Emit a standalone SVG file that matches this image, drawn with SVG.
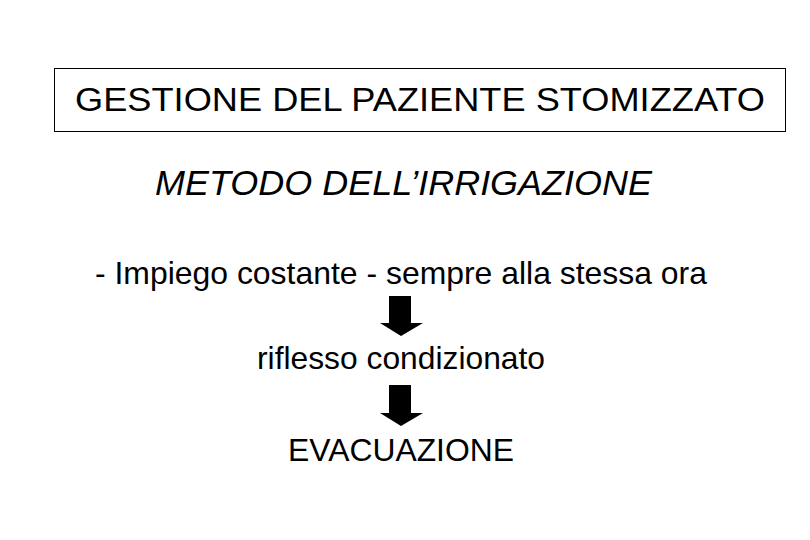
<svg xmlns="http://www.w3.org/2000/svg" width="810" height="540" viewBox="0 0 810 540">
<style>
text{font-family:"Liberation Sans",Arial,sans-serif;fill:#000}
.arrow{fill:#000}
</style>
<rect width="810" height="540" fill="#fff"/>
<g id="title">
<rect x="54.500" y="68.500" width="731" height="63" fill="none" stroke="#000" stroke-width="1"/>
<text x="75" y="111" font-size="34" textLength="690" lengthAdjust="spacingAndGlyphs">GESTIONE DEL PAZIENTE STOMIZZATO</text>
</g>
<g id="metodo">
<text x="155" y="195" font-size="35" font-style="italic" textLength="497" lengthAdjust="spacingAndGlyphs">METODO DELL’IRRIGAZIONE</text>
</g>
<g id="impiego">
<text x="95" y="284" font-size="32" textLength="612" lengthAdjust="spacingAndGlyphs">- Impiego costante - sempre alla stessa ora</text>
</g>
<g id="riflesso">
<text x="257" y="369" font-size="32" textLength="288" lengthAdjust="spacingAndGlyphs">riflesso condizionato</text>
</g>
<g id="evacuazione">
<text x="288" y="461" font-size="32" textLength="226" lengthAdjust="spacingAndGlyphs">EVACUAZIONE</text>
</g>
<g id="connectors">
<polygon class="arrow" points="389,296 411,296 411,323 423,323 401,336 380,323 389,323"/>
<polygon class="arrow" points="389,385 411,385 411,413 423,413 401,426 380,413 389,413"/>
</g>
</svg>
